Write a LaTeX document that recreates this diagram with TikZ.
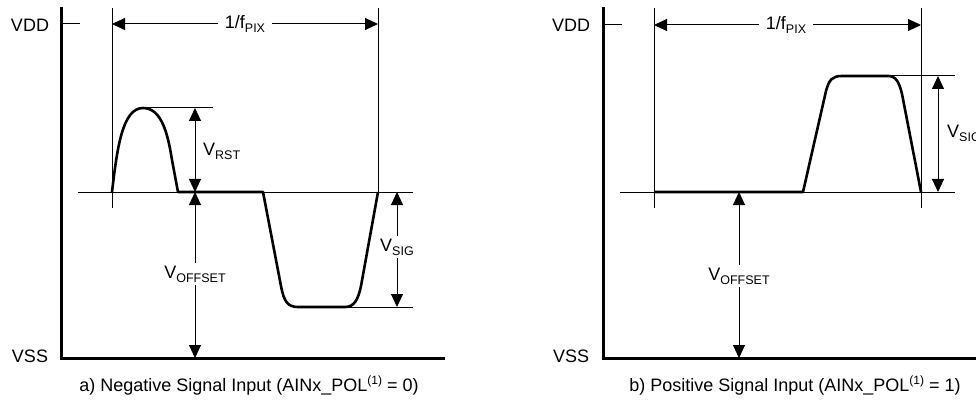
\documentclass[tikz,border=0pt]{standalone}
\usepackage{fontspec}
\setmainfont{Liberation Sans}
\usetikzlibrary{arrows.meta}
\newcommand\lowtxt[1]{\raisebox{-4pt}{\fontsize{12.5}{14}\selectfont #1}}
\newcommand\hightxt[1]{\raisebox{7pt}{\fontsize{12}{14}\selectfont #1}}
\begin{document}
\begin{tikzpicture}[x=1pt,y=-1pt,
  axis/.style={line width=3pt,line join=miter},
  thin/.style={line width=1pt},
  sig/.style={line width=2.6pt,line join=round},
  dim/.style={line width=1pt,{Triangle[length=13pt,width=12pt]}-{Triangle[length=13pt,width=12pt]}},
  lbl/.style={font=\fontsize{18}{21}\selectfont,inner sep=1pt},
  gaplbl/.style={lbl,fill=white,inner sep=3pt}]
\useasboundingbox (0,0) rectangle (976,406);
\fill[white] (0,0) rectangle (976,406);

% ================= Panel a =================
\coordinate (aTop) at (61,7);
\coordinate (aCorner) at (61,358);
\coordinate (aEnd) at (445,358);
\draw[axis] (aTop) -- (aCorner) -- (aEnd);
\coordinate (aVddL) at (61,24); \coordinate (aVddR) at (80,24);
\draw[thin] (aVddL) -- (aVddR);
\node[lbl] (aVDD) at (30,25) {VDD};
\node[lbl] (aVSS) at (30,356) {VSS};

% vertical period lines
\coordinate (aP1t) at (112,8); \coordinate (aP1b) at (112,208);
\coordinate (aP2t) at (378,8); \coordinate (aP2b) at (378,192);
\draw[thin] (aP1t) -- (aP1b);
\draw[thin] (aP2t) -- (aP2b);
% baseline
\coordinate (aBL) at (78,192); \coordinate (aBR) at (413,192);
\draw[thin] (aBL) -- (aBR);
% period arrow
\coordinate (aA1) at (112,24); \coordinate (aA2) at (378,24);
\draw[dim] (aA1) -- (aA2);
\node[gaplbl,inner xsep=7pt] (aFpix) at (245,24) {1/f\lowtxt{PIX}};

% signal
\draw[sig] (112,192) .. controls (117,150) and (122,108) .. (143,108)
  .. controls (162,108) and (168,135) .. (172,160)
  -- (178,192) -- (263,192) -- (281,286)
  .. controls (284,302) and (288,307) .. (298,307)
  -- (345,307)
  .. controls (354,307) and (358,300) .. (361,286)
  -- (378,192);

% V_RST
\coordinate (aRtop) at (143,108); \coordinate (aRtopR) at (213,108);
\draw[thin] (aRtop) -- (aRtopR);
\coordinate (aR1) at (195,108); \coordinate (aR2) at (195,192);
\draw[dim] (aR1) -- (aR2);
\node[lbl,anchor=west] (aVrst) at (202,151) {V\lowtxt{RST}};

% V_OFFSET
\coordinate (aO1) at (195,192); \coordinate (aO2) at (195,358);
\draw[dim] (aO1) -- (aO2);
\node[gaplbl] (aVoff) at (195,274) {V\lowtxt{OFFSET}};

% V_SIG
\coordinate (aSL) at (345,307); \coordinate (aSR) at (413,307);
\draw[thin] (aSL) -- (aSR);
\coordinate (aS1) at (397,192); \coordinate (aS2) at (397,307);
\draw[dim] (aS1) -- (aS2);
\node[gaplbl] (aVsig) at (397,247) {V\lowtxt{SIG}};

\node[lbl] (aCap) at (249,386) {a) Negative Signal Input (AINx\_POL\hightxt{(1)} = 0)};

% ================= Panel b =================
\coordinate (bTop) at (603,7);
\coordinate (bCorner) at (603,358);
\coordinate (bEnd) at (980,358);
\draw[axis] (bTop) -- (bCorner) -- (bEnd);
\coordinate (bVddL) at (603,25); \coordinate (bVddR) at (622,25);
\draw[thin] (bVddL) -- (bVddR);
\node[lbl] (bVDD) at (571,25) {VDD};
\node[lbl] (bVSS) at (571,356) {VSS};

\coordinate (bP1t) at (654,8); \coordinate (bP1b) at (654,208);
\coordinate (bP2t) at (921,8); \coordinate (bP2b) at (921,208);
\draw[thin] (bP1t) -- (bP1b);
\draw[thin] (bP2t) -- (bP2b);
\coordinate (bBL) at (620,192); \coordinate (bBR) at (955,192);
\draw[thin] (bBL) -- (bBR);
\coordinate (bA1) at (654,25); \coordinate (bA2) at (921,25);
\draw[dim] (bA1) -- (bA2);
\node[gaplbl,inner xsep=7pt] (bFpix) at (786,25) {1/f\lowtxt{PIX}};

\draw[sig] (654,192) -- (803,192) -- (826,91)
  .. controls (829,80) and (832,76) .. (842,76)
  -- (888,76)
  .. controls (896,76) and (899,82) .. (902,94)
  -- (921,192);

% V_SIG
\coordinate (bSL) at (888,76); \coordinate (bSR) at (955,76);
\draw[thin] (bSL) -- (bSR);
\coordinate (bS1) at (938,76); \coordinate (bS2) at (938,192);
\draw[dim] (bS1) -- (bS2);
\node[lbl,anchor=west] (bVsig) at (946,133) {V\lowtxt{SIG}};

% V_OFFSET
\coordinate (bO1) at (739,192); \coordinate (bO2) at (739,358);
\draw[dim] (bO1) -- (bO2);
\node[gaplbl] (bVoff) at (739,276) {V\lowtxt{OFFSET}};

\node[lbl] (bCap) at (795,386) {b) Positive Signal Input (AINx\_POL\hightxt{(1)} = 1)};
\end{tikzpicture}
\end{document}
